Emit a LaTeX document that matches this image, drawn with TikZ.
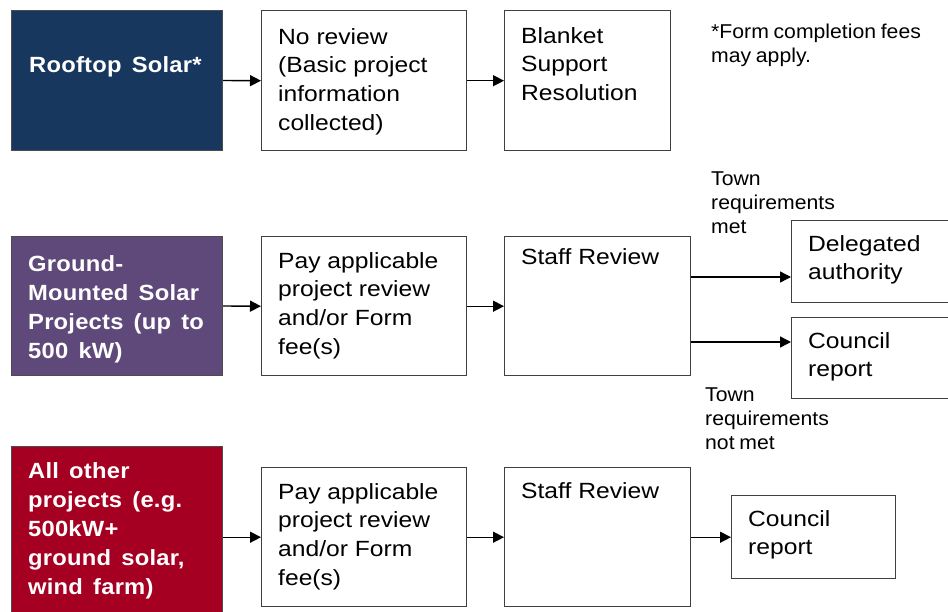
\documentclass[tikz,border=0pt]{standalone}
\usepackage{fontspec}
\setmainfont{Liberation Sans}
\newfontfamily\wfont[FakeStretch=1.08,LetterSpace=1,WordSpace=1.5]{Liberation Sans}
\newfontfamily\bxfont[FakeStretch=1.12]{Liberation Sans}
\newfontfamily\lbfont[FakeStretch=1.06,WordSpace=0.8]{Liberation Sans}
\usetikzlibrary{arrows.meta}
\definecolor{navybox}{HTML}{17375E}
\definecolor{purplebox}{HTML}{5F497A}
\definecolor{redbox}{HTML}{A50021}
\definecolor{boxline}{HTML}{404040}
\begin{document}
\begin{tikzpicture}[x=1pt,y=-1pt,
  box/.style={draw=boxline, line width=1.4pt, fill=white, anchor=north west, inner sep=0pt},
  cbox/.style={draw=black!70, line width=1pt, anchor=north west, inner sep=0pt},
  txt/.style={anchor=north west, inner sep=0pt, align=left, font=\bxfont\fontsize{22}{28.8}\selectfont},
  wtxt/.style={anchor=north west, inner sep=0pt, align=left, text=white, font=\wfont\bfseries\fontsize{22}{29}\selectfont},
  lbl/.style={anchor=north west, inner sep=0pt, align=left, font=\lbfont\fontsize{20}{24}\selectfont},
  arr/.style={-{Triangle[length=11pt,width=11pt]}, line width=1.4pt}]
\useasboundingbox (0,0) rectangle (948,611);
\clip (0,0) rectangle (948,611);
% row 1
\node[cbox, fill=navybox, minimum width=211pt, minimum height=140pt] (r1) at (11,10) {};
\node[box, minimum width=205pt, minimum height=140pt] (n1) at (261,10) {};
\node[box, minimum width=166pt, minimum height=140pt] (b1) at (504,10) {};
\node[wtxt] (r1t) at (29,56) {Rooftop Solar*};
\node[txt] (n1t) at (278,28) {No review\\(Basic project\\information\\collected)};
\node[txt] (b1t) at (521,27) {Blanket\\Support\\Resolution};
\node[lbl] (note) at (711,24) {*Form completion fees\\may apply.};
\draw[arr] (r1.east) -- (n1.west);
\draw[arr] (n1.east) -- (b1.west);
% row 2
\node[cbox, fill=purplebox, minimum width=211pt, minimum height=139pt] (r2) at (11,236) {};
\node[box, minimum width=205pt, minimum height=139pt] (p2) at (261,236) {};
\node[box, minimum width=186pt, minimum height=139pt] (s2) at (504,236) {};
\node[box, minimum width=170pt, minimum height=82pt] (d2) at (791,220) {};
\node[box, minimum width=170pt, minimum height=81pt] (c2) at (791,317) {};
\node[wtxt] (r2t) at (28,255) {Ground-\\Mounted Solar\\Projects (up to\\500 kW)};
\node[txt] (p2t) at (278,252) {Pay applicable\\project review\\and/or Form\\fee(s)};
\node[txt] (s2t) at (521,248) {Staff Review};
\node[txt] (d2t) at (808,235) {Delegated\\authority};
\node[txt] (c2t) at (808,332) {Council\\report};
\node[lbl] (met) at (711,172) {Town\\requirements\\met};
\node[lbl] (notmet) at (705,388) {Town\\requirements\\not met};
\draw[arr] (r2.east) -- (p2.west);
\draw[arr] (p2.east) -- (s2.west);
\coordinate (m1) at (0,277);
\coordinate (m2) at (0,342);
\draw[arr] (s2.east |- m1) -- (d2.west |- m1);
\draw[arr] (s2.east |- m2) -- (c2.west |- m2);
% row 3
\node[cbox, fill=redbox, minimum width=211pt, minimum height=175pt] (r3) at (11,446) {};
\node[box, minimum width=205pt, minimum height=139pt] (p3) at (261,467) {};
\node[box, minimum width=186pt, minimum height=139pt] (s3) at (504,467) {};
\node[box, minimum width=164pt, minimum height=83pt] (c3) at (731,495) {};
\node[wtxt] (r3t) at (28,462) {All other\\projects (e.g.\\500kW+\\ground solar,\\wind farm)};
\node[txt] (p3t) at (278,483) {Pay applicable\\project review\\and/or Form\\fee(s)};
\node[txt] (s3t) at (521,482) {Staff Review};
\node[txt] (c3t) at (748,510) {Council\\report};
\draw[arr] (r3.east |- p3.west) -- (p3.west);
\draw[arr] (p3.east) -- (s3.west);
\draw[arr] (s3.east) -- (c3.west);
\end{tikzpicture}
\end{document}
